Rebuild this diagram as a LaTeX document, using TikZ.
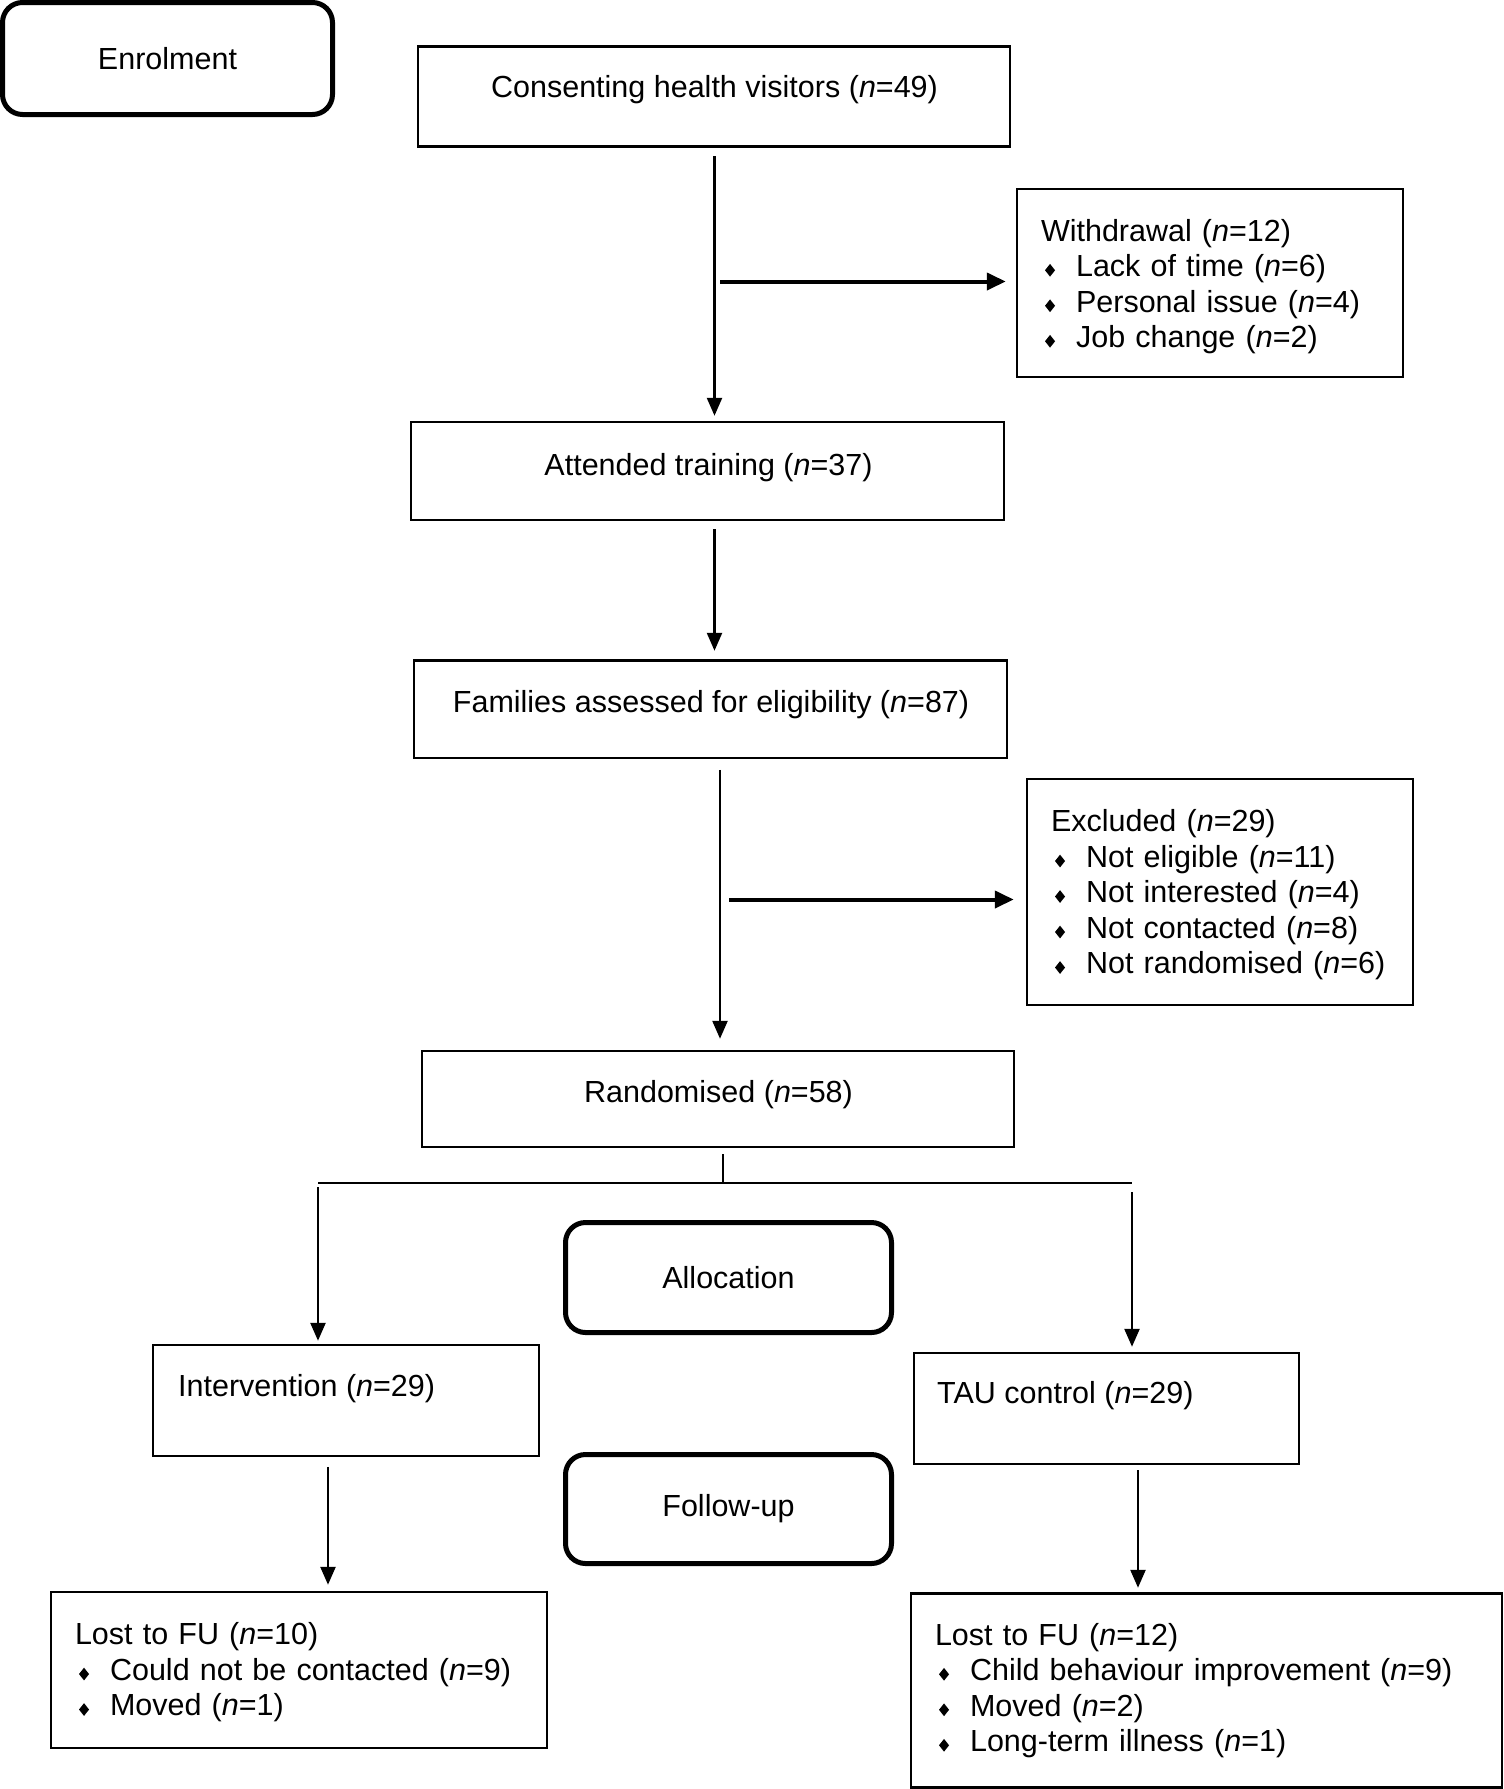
\documentclass[tikz,border=0pt]{standalone}
\usepackage{fontspec}
\setmainfont{Liberation Sans}
\usetikzlibrary{arrows.meta,calc}
\newcommand\dmd{\scalebox{0.79}[1]{\rotatebox{45}{\rule{9pt}{9pt}}}}
\newcommand\bitem[1]{\hspace*{4pt}\dmd\hspace{21pt}#1}
\newcommand\nn{\textit{n}}
\begin{document}
\begin{tikzpicture}[x=1pt,y=-1pt, font=\fontsize{30.5}{35.5}\selectfont,
  box/.style={draw, line width=2.5pt, inner sep=0pt},
  rbox/.style={draw, line width=5pt, rounded corners=20pt, inner sep=0pt},
  listtxt/.style={inner sep=0pt, align=left},
  txt/.style={inner sep=0pt},
  arr/.style={line width=2.5pt, -{Triangle[length=18pt,width=15pt]}},
  sarr/.style={line width=4pt, -{Triangle[length=19pt,width=17pt]}},
  ln/.style={line width=2.5pt}]
\useasboundingbox (0,0) rectangle (1504,1789);

% phase boxes
\node[rbox, minimum width=330pt, minimum height=112pt] (enr) at (167.5,58.5) {Enrolment};
\node[rbox, minimum width=326pt, minimum height=110pt] (alloc) at (728.5,1277.5) {Allocation};
\node[rbox, minimum width=326pt, minimum height=109pt] (fu) at (728.5,1509) {Follow-up};

% main boxes
\node[box, minimum width=592pt, minimum height=100pt] (cons) at (714,96.5) {};
\node[txt, anchor=base] (consT) at (714.5,97.7) {Consenting health visitors (\nn=49)};

\node[box, minimum width=386pt, minimum height=188pt] (wd) at (1210,283) {};
\node[listtxt, text width=338pt] (wdT) at (1210,286.5)
  {Withdrawal (\nn=12)\\ \bitem{Lack of time (\nn=6)}\\ \bitem{Personal issue (\nn=4)}\\ \bitem{Job change (\nn=2)}};

\node[box, minimum width=593pt, minimum height=98pt] (att) at (707.5,471) {};
\node[txt, anchor=base] (attT) at (708.5,475) {Attended training (\nn=37)};

\node[box, minimum width=593pt, minimum height=97.5pt] (fam) at (710.5,709.25) {};
\node[txt, anchor=base] (famT) at (711,712) {Families assessed for eligibility (\nn=87)};

\node[box, minimum width=386pt, minimum height=226pt] (ex) at (1220,892) {};
\node[listtxt, text width=338pt] (exT) at (1220,895)
  {Excluded (\nn=29)\\ \bitem{Not eligible (\nn=11)}\\ \bitem{Not interested (\nn=4)}\\ \bitem{Not contacted (\nn=8)}\\ \bitem{Not randomised (\nn=6)}};

\node[box, minimum width=592pt, minimum height=96pt] (rand) at (718,1099) {};
\node[txt, anchor=base] (randT) at (718.5,1102) {Randomised (\nn=58)};

\node[box, minimum width=386pt, minimum height=111pt] (int) at (346,1400.5) {};
\node[txt, anchor=base west] (intT) at (178,1396) {Intervention (\nn=29)};

\node[box, minimum width=385pt, minimum height=111pt] (tau) at (1106.5,1408.5) {};
\node[txt, anchor=base west] (tauT) at (937,1403.5) {TAU control (\nn=29)};

\node[box, minimum width=496pt, minimum height=156pt] (ll) at (299,1670) {};
\node[listtxt, text width=448pt] (llT) at (299,1672.5)
  {Lost to FU (\nn=10)\\ \bitem{Could not be contacted (\nn=9)}\\ \bitem{Moved (\nn=1)}};

\node[box, minimum width=591pt, minimum height=194pt] (lr) at (1206.5,1690.5) {};
\node[listtxt, text width=543pt] (lrT) at (1206.5,1690.5)
  {Lost to FU (\nn=12)\\ \bitem{Child behaviour improvement (\nn=9)}\\ \bitem{Moved (\nn=2)}\\ \bitem{Long-term illness (\nn=1)}};

% column coordinates
\coordinate (c1) at (714.5,0);
\coordinate (c2) at (720,0);
\coordinate (c3) at (723,0);
\coordinate (cl) at (318,0);
\coordinate (cr) at (1132,0);
\coordinate (cl2) at (328,0);
\coordinate (cr2) at (1138,0);
\coordinate (s1) at (720,281.5);
\coordinate (s2) at (729,899.5);
\coordinate (sp) at (723,1183);
\coordinate (spl) at (318,1183);
\coordinate (spr) at (1132,1183);

% connectors
\draw[arr, shorten <=8.5pt, shorten >=5pt] (c1 |- cons.south) -- (c1 |- att.north);
\draw[sarr, shorten >=10pt] (s1) -- (wd.west |- s1);
\draw[arr, shorten <=8pt, shorten >=8.5pt] (c1 |- att.south) -- (c1 |- fam.north);
\draw[arr, shorten <=10.5pt, shorten >=11pt] (c2 |- fam.south) -- (c2 |- rand.north);
\draw[sarr, shorten >=12pt] (s2) -- (ex.west |- s2);
\draw[ln, shorten <=6pt] (c3 |- rand.south) -- (sp);
\draw[ln] (spl) -- (spr);
\draw[arr, shorten <=4pt, shorten >=3pt] (spl) -- (cl |- int.north);
\draw[arr, shorten <=9pt, shorten >=5pt] (spr) -- (cr |- tau.north);
\draw[arr, shorten <=9.5pt, shorten >=6pt] (cl2 |- int.south) -- (cl2 |- ll.north);
\draw[arr, shorten <=5pt, shorten >=4.5pt] (cr2 |- tau.south) -- (cr2 |- lr.north);
\end{tikzpicture}
\end{document}
